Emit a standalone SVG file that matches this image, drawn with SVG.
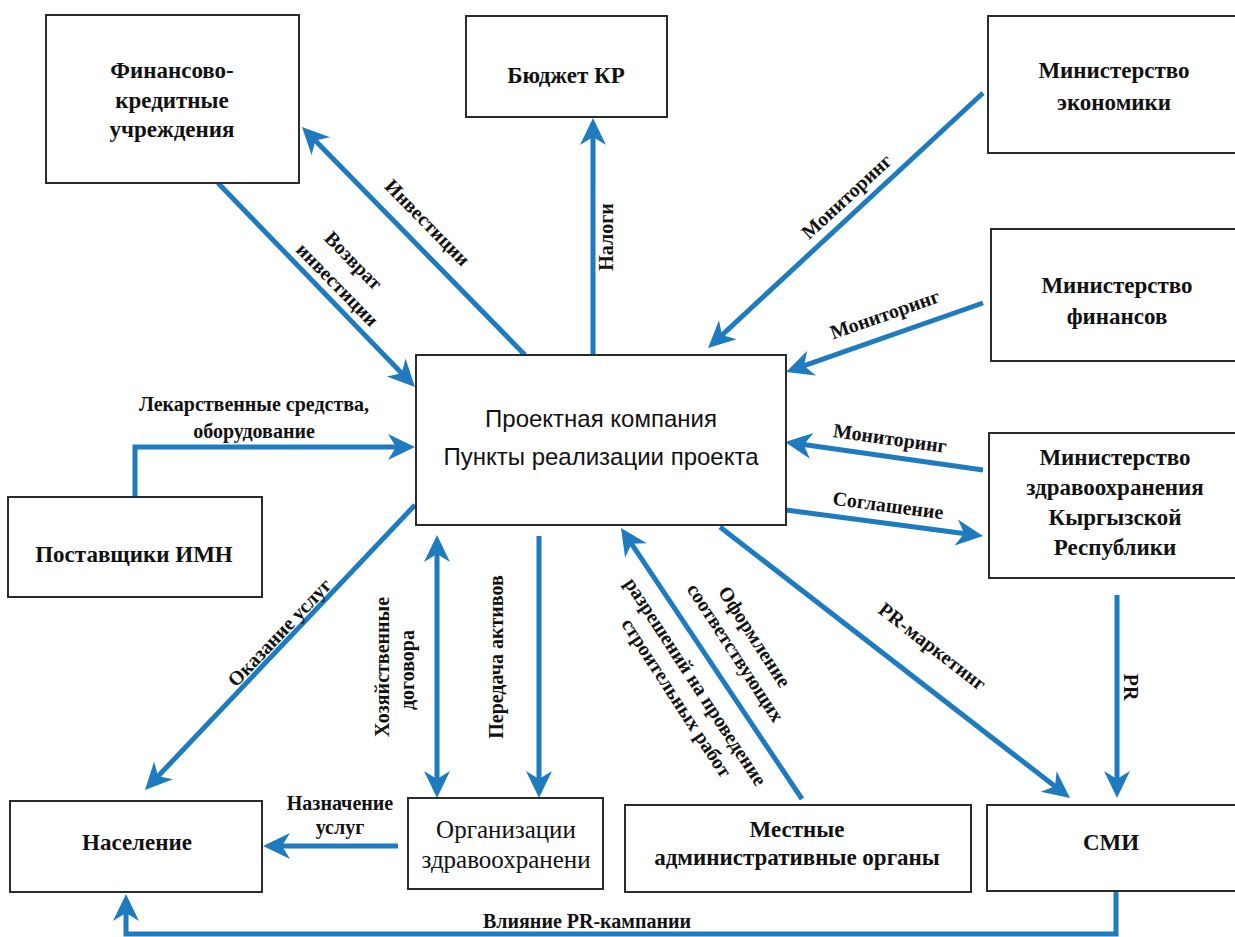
<svg xmlns="http://www.w3.org/2000/svg" width="1235" height="937" viewBox="0 0 1235 937">
<style>
.box{fill:#fff;stroke:#2b2b2b;stroke-width:2}
.nt{font-weight:bold;font-size:23px;fill:#111;text-anchor:middle}
.nr{font-weight:normal;font-size:25px;fill:#111;text-anchor:middle}
.ct{font-size:24px;fill:#111;text-anchor:middle}
.lb{font-weight:bold;font-size:20px;fill:#111;text-anchor:middle}
.cn{stroke:#1e7bbf;stroke-width:5;fill:none;marker-end:url(#ah)}
</style>
<defs>
<marker id="ah" markerUnits="userSpaceOnUse" viewBox="-28 -14 30 28" refX="-8" refY="0" markerWidth="30" markerHeight="28" orient="auto-start-reverse">
<path d="M0,0 L-27,-13 L-19,0 L-27,13 Z" fill="#1e7bbf"/>
</marker>
</defs>
<rect width="1235" height="937" fill="#fff"/>

<g id="connectors" font-family="'Liberation Serif', 'Times New Roman', serif">
<line class="cn" x1="525" y1="355" x2="307.6" y2="132.7"/>
<line class="cn" x1="218" y1="183" x2="409.4" y2="381.2"/>
<line class="cn" x1="593" y1="355" x2="593" y2="126"/>
<line class="cn" x1="983" y1="93" x2="713.9" y2="342.6"/>
<line class="cn" x1="983" y1="303" x2="793.6" y2="369.4"/>
<line class="cn" x1="983" y1="470" x2="792.9" y2="443.1"/>
<line class="cn" x1="786" y1="510" x2="975.1" y2="535"/>
<line class="cn" x1="720" y1="527" x2="1063.7" y2="793.1"/>
<line class="cn" x1="1117" y1="595" x2="1117" y2="790"/>
<path class="cn" d="M1116,891 V934 H126 V902"/>
<path class="cn" d="M135,497 V447 H407"/>
<line class="cn" x1="415" y1="505" x2="150.5" y2="784.2"/>
<line class="cn" x1="437" y1="543" x2="437" y2="790" marker-start="url(#ah)"/>
<line class="cn" x1="539" y1="536" x2="539" y2="790"/>
<line class="cn" x1="802" y1="799" x2="625.4" y2="534.7"/>
<line class="cn" x1="398" y1="846" x2="271" y2="846"/>

<text class="lb" transform="translate(427,223) rotate(45.6)" y="6">Инвестиции</text>
<text class="lb" transform="translate(353,261) rotate(45.6)" y="6">Возврат</text>
<text class="lb" transform="translate(337,285) rotate(45.6)" y="6">инвестиции</text>
<text class="lb" transform="translate(607,237) rotate(-90)" y="6">Налоги</text>
<text class="lb" transform="translate(847,197) rotate(-42.8)" y="6">Мониторинг</text>
<text class="lb" transform="translate(885,315) rotate(-19.3)" y="6">Мониторинг</text>
<text class="lb" transform="translate(890,439) rotate(8)" y="6">Мониторинг</text>
<text class="lb" transform="translate(888,506) rotate(7.5)" y="6">Соглашение</text>
<text class="lb" transform="translate(932,647) rotate(37.7)" y="6">PR-маркетинг</text>
<text class="lb" transform="translate(1130,687) rotate(90)" y="6">PR</text>
<text class="lb" x="587" y="928">Влияние PR-кампании</text>
<text class="lb" x="254" y="411">Лекарственные средства,</text>
<text class="lb" x="254" y="438">оборудование</text>
<text class="lb" transform="translate(280,633) rotate(-46.5)" y="6">Оказание услуг</text>
<text class="lb" transform="translate(383,667) rotate(-90)" y="6">Хозяйственные</text>
<text class="lb" transform="translate(408,670) rotate(-90)" y="6">договора</text>
<text class="lb" transform="translate(497,657) rotate(-90)" y="6">Передача активов</text>
<text class="lb" transform="translate(754,637) rotate(57)" y="6">Оформление</text>
<text class="lb" transform="translate(735,653) rotate(57)" y="6">соответствующих</text>
<text class="lb" transform="translate(695,682) rotate(57)" y="6">разрешений на проведение</text>
<text class="lb" transform="translate(676,698) rotate(57)" y="6">строительных работ</text>
<text class="lb" x="340" y="810">Назначение</text>
<text class="lb" x="340" y="834">услуг</text>
</g>

<g font-family="'Liberation Serif', 'Times New Roman', serif">
<g id="fin">
<rect class="box" x="46" y="15" width="253" height="168"/>
<text class="nt" x="172" y="78">Финансово-</text>
<text class="nt" x="172" y="108">кредитные</text>
<text class="nt" x="172" y="137">учреждения</text>
</g>
<g id="budget">
<rect class="box" x="466" y="16" width="201" height="101"/>
<text class="nt" x="566" y="83">Бюджет КР</text>
</g>
<g id="min-econ">
<rect class="box" x="988" y="16" width="252" height="137"/>
<text class="nt" x="1114" y="78">Министерство</text>
<text class="nt" x="1114" y="110">экономики</text>
</g>
<g id="min-fin">
<rect class="box" x="991" y="229" width="250" height="132"/>
<text class="nt" x="1117" y="293">Министерство</text>
<text class="nt" x="1117" y="324">финансов</text>
</g>
<g id="center">
<rect class="box" x="416" y="355" width="370" height="170"/>
<text class="ct" x="601" y="427" font-family="'Liberation Sans', Arial, sans-serif">Проектная компания</text>
<text class="ct" x="601" y="465" font-family="'Liberation Sans', Arial, sans-serif">Пункты реализации проекта</text>
</g>
<g id="min-health">
<rect class="box" x="989" y="433" width="252" height="145"/>
<text class="nt" x="1115" y="465">Министерство</text>
<text class="nt" x="1115" y="495">здравоохранения</text>
<text class="nt" x="1115" y="525">Кыргызской</text>
<text class="nt" x="1115" y="555">Республики</text>
</g>
<g id="suppliers">
<rect class="box" x="8" y="497" width="254" height="100"/>
<text class="nt" x="134" y="562">Поставщики ИМН</text>
</g>
<g id="population">
<rect class="box" x="10" y="801" width="252" height="91"/>
<text class="nt" x="137" y="850">Население</text>
</g>
<g id="health-orgs">
<rect class="box" x="408" y="798" width="195" height="91"/>
<text class="nr" x="506" y="838">Организации</text>
<text class="nr" x="506" y="868">здравоохранени</text>
</g>
<g id="local-admin">
<rect class="box" x="625" y="805" width="346" height="87"/>
<text class="nt" x="797" y="837">Местные</text>
<text class="nt" x="797" y="865">административные органы</text>
</g>
<g id="media">
<rect class="box" x="987" y="805" width="253" height="86"/>
<text class="nt" x="1111" y="850">СМИ</text>
</g>
</g>
</svg>
